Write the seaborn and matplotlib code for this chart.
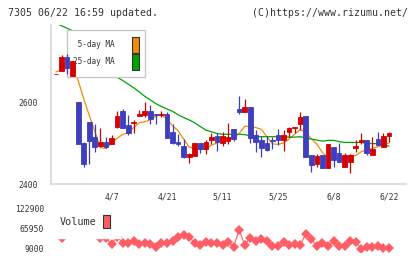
import numpy as np
import pandas as pd
import matplotlib
matplotlib.use("Agg")
import matplotlib.pyplot as plt
from matplotlib.patches import Patch
import seaborn as sns

# ---------------- data ----------------
dates = ["3/24", "3/25", "3/26", "3/27", "3/30", "3/31", "4/1", "4/2", "4/3", "4/6",
         "4/7", "4/8", "4/9", "4/10", "4/13", "4/14", "4/15", "4/16", "4/17", "4/20",
         "4/21", "4/22", "4/23", "4/24", "4/27", "4/28", "4/30", "5/1", "5/7", "5/8",
         "5/11", "5/12", "5/13", "5/14", "5/15", "5/18", "5/19", "5/20", "5/21", "5/22",
         "5/25", "5/26", "5/27", "5/28", "5/29", "6/1", "6/2", "6/3", "6/4", "6/5",
         "6/8", "6/9", "6/10", "6/11", "6/12", "6/15", "6/16", "6/17", "6/18", "6/19",
         "6/22"]

opens = [2670, 2678, 2712, 2664, 2601, 2500, 2551, 2515, 2493, 2502,
         2498, 2541, 2580, 2544, 2550, 2567, 2570, 2578, 2572, 2569,
         2572, 2528, 2502, 2493, 2466, 2469, 2501, 2485, 2507, 2517,
         2501, 2505, 2534, 2585, 2576, 2590, 2521, 2507, 2501, 2509,
         2520, 2507, 2527, 2537, 2546, 2567, 2470, 2449, 2471, 2440,
         2491, 2476, 2442, 2454, 2489, 2502, 2507, 2471, 2511, 2491,
         2518]
highs = [2670, 2716, 2719, 2702, 2601, 2502, 2551, 2548, 2537, 2515,
         2520, 2579, 2585, 2570, 2558, 2582, 2600, 2593, 2572, 2580,
         2576, 2548, 2523, 2511, 2476, 2501, 2501, 2507, 2525, 2525,
         2528, 2550, 2534, 2615, 2609, 2590, 2532, 2517, 2517, 2515,
         2536, 2532, 2540, 2541, 2576, 2567, 2470, 2473, 2471, 2498,
         2491, 2501, 2475, 2473, 2509, 2525, 2507, 2515, 2528, 2524,
         2528]
lows = [2670, 2678, 2670, 2664, 2498, 2442, 2449, 2479, 2490, 2489,
        2498, 2538, 2537, 2520, 2524, 2567, 2565, 2548, 2548, 2564,
        2513, 2497, 2494, 2465, 2452, 2469, 2476, 2473, 2499, 2481,
        2493, 2499, 2506, 2572, 2576, 2501, 2479, 2467, 2481, 2485,
        2495, 2481, 2515, 2524, 2532, 2467, 2430, 2441, 2440, 2440,
        2442, 2454, 2442, 2428, 2479, 2498, 2471, 2471, 2495, 2491,
        2503]
closes = [2670, 2712, 2684, 2702, 2498, 2449, 2506, 2490, 2502, 2490,
          2512, 2566, 2537, 2525, 2553, 2571, 2578, 2560, 2569, 2572,
          2513, 2501, 2498, 2467, 2473, 2501, 2485, 2502, 2515, 2502,
          2517, 2515, 2510, 2576, 2590, 2514, 2502, 2489, 2483, 2505,
          2507, 2520, 2538, 2541, 2564, 2467, 2447, 2468, 2440, 2498,
          2459, 2454, 2471, 2471, 2493, 2507, 2476, 2487, 2495, 2518,
          2525]
ma5 = [2675, 2680, 2683, 2690, 2653.2, 2609.0, 2567.8, 2529.0, 2489.0, 2487.4,
       2500.0, 2512.0, 2521.4, 2526.0, 2538.6, 2550.4, 2552.8, 2557.4, 2566.2, 2570.0,
       2558.4, 2543.0, 2530.6, 2510.2, 2490.4, 2488.0, 2484.8, 2485.6, 2495.2, 2501.0,
       2504.2, 2510.2, 2511.8, 2524.0, 2541.6, 2541.0, 2538.4, 2534.2, 2515.6, 2498.6,
       2497.2, 2500.8, 2510.6, 2522.2, 2534.0, 2526.0, 2511.4, 2497.4, 2477.2, 2464.0,
       2462.4, 2463.8, 2464.4, 2470.6, 2469.6, 2479.2, 2483.6, 2486.8, 2491.6, 2496.6,
       2500.2]
ma25 = [2795, 2788, 2782, 2776, 2762, 2748, 2733, 2718, 2703, 2690,
        2677, 2662, 2654, 2645, 2636, 2626, 2615, 2606, 2597, 2590,
        2584, 2578, 2570, 2563, 2557, 2550, 2541, 2532, 2528, 2524,
        2522, 2522, 2522, 2522, 2521, 2518, 2517, 2516, 2516, 2516,
        2516, 2516, 2515, 2515, 2516, 2513, 2510, 2508, 2505, 2507,
        2507, 2504, 2502, 2502, 2502, 2502, 2500, 2499, 2499, 2495,
        2493]
volume = [150000, 37500, 90000, 80000, 110000, 95000, 85000, 70000, 37500, 37500,
          20400, 42000, 25000, 23200, 29800, 20400, 23200, 20400, 13600, 23200,
          23200, 30600, 42000, 46900, 42000, 23200, 18400, 27800, 23200, 23200,
          18400, 27800, 13600, 61100, 18400, 39200, 29800, 34600, 29800, 15500,
          15500, 27800, 18400, 20400, 18400, 49700, 35500, 15500, 23200, 15500,
          29800, 15500, 15500, 30600, 27800, 7000, 11800, 13600, 16400, 9000,
          10700]

date_labels = ["4/7", "4/21", "5/11", "5/25", "6/8", "6/22"]
price_ticks = [2400, 2600]
volume_ticks = [9000, 65950, 122900]
volume_tick_labels = ["9000", "65950", "122900"]
series_labels = ["5-day MA", "25-day MA"]
title_left = "7305 06/22 16:59 updated."
title_right = "(C)https://www.rizumu.net/"

# ---------------- style ----------------
RED = "#d40000"
BLUE = "#3e3ebe"
ORANGE = "#f08c0a"
GREEN = "#00a300"
PINK = "#ff5e66"
GRID = "#d4d4d4"
TEXT = "#333333"

sns.set_style("white")
plt.rcParams["font.family"] = ["DejaVu Sans Mono", "DejaVu Sans"]

df = pd.DataFrame({
    "x": np.arange(len(dates)), "date": dates,
    "open": opens, "high": highs, "low": lows, "close": closes,
    "ma5": ma5, "ma25": ma25, "volume": volume,
})

fig = plt.figure(figsize=(4.2, 2.59), dpi=100)
L, R = 51 / 420, 405.7 / 420
ax = fig.add_axes([L, 1 - 184 / 259, R - L, (184 - 25) / 259])
axv = fig.add_axes([L, 1 - 252 / 259, R - L, (252 - 205) / 259])
xlim = (-0.9, 63.0)

# ---- price panel ----
up = df["close"] >= df["open"]
cols = np.where(up, RED, BLUE)
ax.vlines(df["x"], df["low"], df["high"], colors=cols, lw=0.9, zorder=6)
ax.bar(df["x"], (df["close"] - df["open"]).abs(),
       bottom=df[["open", "close"]].min(axis=1), width=0.85,
       color=cols, edgecolor=cols, linewidth=0.6, zorder=6)
sns.lineplot(data=df, x="x", y="ma5", ax=ax, color=ORANGE, lw=0.9, zorder=2)
sns.lineplot(data=df, x="x", y="ma25", ax=ax, color=GREEN, lw=0.9, zorder=2)

ax.set_xlim(*xlim)
ax.set_ylim(2400, 2790)
ax.set_xlabel("")
ax.set_ylabel("")
ax.set_yticks(price_ticks)
ax.set_yticklabels([str(v) for v in price_ticks])
ax.set_xticks([dates.index(d) for d in date_labels])
ax.set_xticklabels(date_labels)
ax.set_xticks(np.linspace(xlim[0], xlim[1], 12), minor=True)
ax.tick_params(axis="y", which="major", length=5, width=1, color=GRID,
               pad=4.5, labelsize=5.8, labelcolor=TEXT)
ax.tick_params(axis="x", which="major", length=0, pad=6, labelsize=5.8,
               labelcolor=TEXT)
ax.tick_params(axis="x", which="minor", length=5, width=1, color=GRID)
for s in ["top", "right"]:
    ax.spines[s].set_visible(False)
for s in ["left", "bottom"]:
    ax.spines[s].set_color(GRID)
    ax.spines[s].set_linewidth(1.1)

# labels right-aligned (monospaced font): pad the shorter one on the left
w = max(len(s) for s in series_labels)
handles = [Patch(facecolor=ORANGE, edgecolor=TEXT, lw=0.8, label=series_labels[0].rjust(w)),
           Patch(facecolor=GREEN, edgecolor=TEXT, lw=0.8, label=series_labels[1].rjust(w))]
leg = ax.legend(handles=handles, loc="upper left", bbox_to_anchor=(0.044, 0.969),
                borderaxespad=0, markerfirst=False, frameon=True, fancybox=False,
                edgecolor="#c8c8c8", facecolor="white", framealpha=1,
                fontsize=5.6, handlelength=0.86, handleheight=2.85,
                handletextpad=2.2, borderpad=0.85, labelspacing=0.1,
                labelcolor=TEXT)
leg.get_frame().set_linewidth(1.0)
leg.set_zorder(4)

# ---- volume panel ----
sns.lineplot(data=df, x="x", y="volume", ax=axv, color=PINK, lw=0.8,
             marker="D", markersize=4.8, markeredgewidth=0)
axv.set_xlim(*xlim)
axv.set_ylim(-1536, 132290)
axv.set_xlabel("")
axv.set_ylabel("")
axv.set_xticks([])
axv.set_yticks(volume_ticks)
axv.set_yticklabels(volume_tick_labels)
axv.tick_params(axis="y", length=0, pad=5, labelsize=5.8, labelcolor=TEXT)
for s in axv.spines.values():
    s.set_visible(False)
vleg = axv.legend(handles=[Patch(facecolor=PINK, edgecolor=TEXT, lw=0.8, label="Volume")],
                  loc="upper left", bbox_to_anchor=(-0.003, 1.0), borderaxespad=0,
                  markerfirst=False, frameon=True, fancybox=False,
                  facecolor="white", edgecolor="white", framealpha=1,
                  fontsize=7.3, handlelength=0.7, handleheight=1.6,
                  handletextpad=0.6, borderpad=1.0, labelcolor=TEXT)
vleg.set_zorder(5)

fig.text(8 / 420, 1 - 12.5 / 259, title_left, ha="left", va="center",
         fontsize=7.1, color=TEXT)
fig.text(408 / 420, 1 - 12.5 / 259, title_right, ha="right", va="center",
         fontsize=7.1, color=TEXT)

fig.savefig("out.png", dpi=100)
